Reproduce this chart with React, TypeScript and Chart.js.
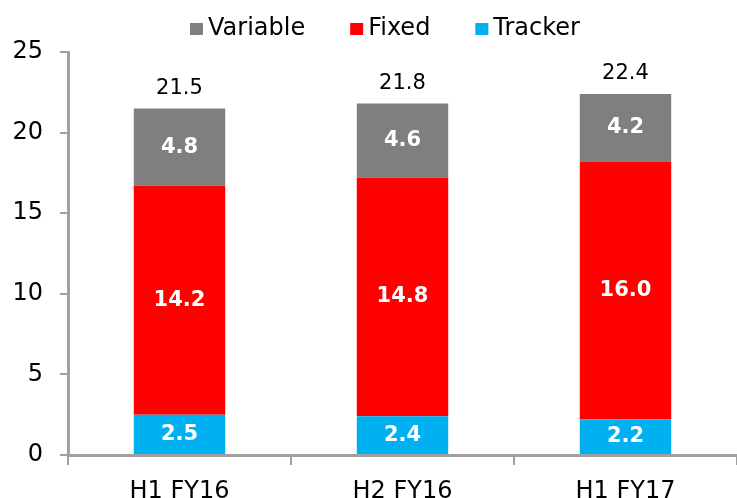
import React, { useEffect, useRef } from "react";
import { Chart, registerables } from "chart.js";

Chart.register(...registerables);

const categories = ["H1 FY16", "H2 FY16", "H1 FY17"];
const tracker = [2.5, 2.4, 2.2];
const fixed = [14.2, 14.8, 16.0];
const variable = [4.8, 4.6, 4.2];
const totals = [21.5, 21.8, 22.4];
const yTicks = [0, 5, 10, 15, 20, 25];

const FONT = "'DejaVu Sans', Verdana, sans-serif";
const AXIS = "#a0a0a0";

const labelPlugin = {
  id: "labels",
  afterDatasetsDraw(chart: any) {
    const ctx = chart.ctx;
    ctx.save();
    ctx.textAlign = "center";
    ctx.textBaseline = "middle";
    chart.data.datasets.forEach((ds: any, di: number) => {
      const meta = chart.getDatasetMeta(di);
      meta.data.forEach((bar: any, i: number) => {
        const v = ds.data[i];
        ctx.fillStyle = "#ffffff";
        ctx.font = `bold 21px ${FONT}`;
        ctx.fillText(v.toFixed(1), bar.x, (bar.y + bar.base) / 2);
      });
    });
    const topMeta = chart.getDatasetMeta(chart.data.datasets.length - 1);
    topMeta.data.forEach((bar: any, i: number) => {
      ctx.fillStyle = "#000000";
      ctx.font = `21px ${FONT}`;
      ctx.fillText(totals[i].toFixed(1), bar.x, bar.y - 20);
    });
    ctx.restore();
  },
};

const legendPlugin = {
  id: "customLegend",
  afterDraw(chart: any) {
    const ctx = chart.ctx;
    const items = [...chart.data.datasets].reverse();
    ctx.save();
    ctx.font = `24px ${FONT}`;
    ctx.textBaseline = "alphabetic";
    ctx.textAlign = "left";
    let x = 190;
    items.forEach((ds: any) => {
      ctx.fillStyle = ds.backgroundColor;
      ctx.fillRect(x, 23, 13, 12);
      ctx.fillStyle = "#000000";
      ctx.fillText(ds.label, x + 18, 35);
      x += 18 + ctx.measureText(ds.label).width + 45;
    });
    ctx.restore();
  },
};

export default function App() {
  const ref = useRef<HTMLCanvasElement | null>(null);
  useEffect(() => {
    document.body.style.margin = "0";
    if (!ref.current) return;
    const chart = new Chart(ref.current, {
      type: "bar",
      data: {
        labels: categories,
        datasets: [
          { label: "Tracker", data: tracker, backgroundColor: "#00b0f0" },
          { label: "Fixed", data: fixed, backgroundColor: "#ff0000" },
          { label: "Variable", data: variable, backgroundColor: "#7f7f7f" },
        ],
      },
      options: {
        responsive: false,
        animation: false,
        layout: { padding: { top: 52, left: 0, right: 0, bottom: 0 } },
        datasets: { bar: { categoryPercentage: 1, barPercentage: 0.41 } },
        plugins: { legend: { display: false }, tooltip: { enabled: false } },
        scales: {
          x: {
            stacked: true,
            afterFit: (s: any) => {
              s.height = 43;
            },
            grid: {
              display: true,
              drawOnChartArea: false,
              offset: true,
              tickLength: 10,
              color: AXIS,
              lineWidth: 2,
            },
            border: { display: true, color: AXIS, width: 3 },
            ticks: { color: "#000", font: { family: FONT, size: 24 }, padding: 12 },
          },
          y: {
            stacked: true,
            min: 0,
            max: 25,
            afterFit: (s: any) => {
              s.width = 68;
            },
            afterBuildTicks: (s: any) => {
              s.ticks = yTicks.map((v) => ({ value: v }));
            },
            grid: {
              display: true,
              drawOnChartArea: false,
              tickLength: 8,
              color: AXIS,
              lineWidth: 2,
            },
            border: { display: true, color: AXIS, width: 3 },
            ticks: { color: "#000", font: { family: FONT, size: 24 }, padding: 17 },
          },
        },
      },
      plugins: [labelPlugin, legendPlugin],
    });
    return () => chart.destroy();
  }, []);
  return (
    <div style={{ width: 737, height: 498 }}>
      <canvas ref={ref} width={737} height={498} />
    </div>
  );
}
